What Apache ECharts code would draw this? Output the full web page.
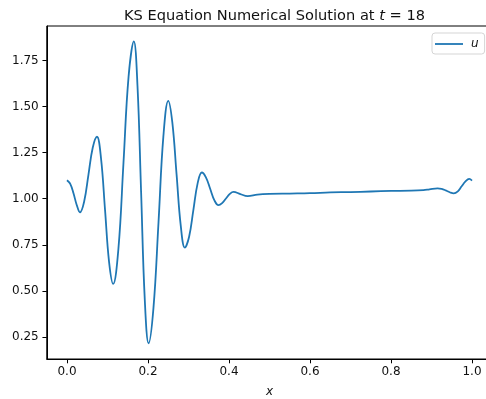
<!DOCTYPE html>
<html>
<head>
<meta charset="utf-8">
<script src="https://cdn.jsdelivr.net/npm/echarts@6/dist/echarts.min.js"></script>
<style>
html,body{margin:0;padding:0;background:#fff;}
#c{width:486px;height:399px;}
</style>
</head>
<body>
<div id="c"></div>
<script>
const xValues = [
  0.000, 0.008, 0.016, 0.024, 0.032,
  0.0425, 0.053, 0.0635, 0.074,
  0.084, 0.094, 0.104, 0.114,
  0.127, 0.1395, 0.152, 0.165,
  0.174, 0.183, 0.192, 0.2015,
  0.2135, 0.226, 0.238, 0.250,
  0.260, 0.2705, 0.281, 0.291,
  0.3015, 0.312, 0.3225, 0.333,
  0.343, 0.3535, 0.364, 0.374,
  0.383, 0.3925, 0.402, 0.411,
  0.428, 0.446,
  0.470, 0.500, 0.550, 0.600, 0.650, 0.700, 0.750, 0.800, 0.850, 0.880,
  0.895, 0.915,
  0.925, 0.935, 0.945, 0.955,
  0.965, 0.974, 0.984, 0.993,
  1.000
];
const uValues = [
  1.100, 1.080, 1.030, 0.966, 0.926,
  0.986, 1.131, 1.276, 1.336,
  1.219, 0.937, 0.655, 0.538,
  0.730, 1.196, 1.661, 1.853,
  1.614, 1.035, 0.455, 0.216,
  0.408, 0.874, 1.339, 1.531,
  1.415, 1.133, 0.851, 0.735,
  0.794, 0.938, 1.083, 1.142,
  1.116, 1.054, 0.991, 0.965,
  0.976, 1.001, 1.026, 1.037,
  1.025, 1.014,
  1.022, 1.026, 1.028, 1.030, 1.034, 1.036, 1.039, 1.042, 1.044, 1.047,
  1.051, 1.056,
  1.053, 1.045, 1.035, 1.029,
  1.040, 1.066, 1.094, 1.107,
  1.098
];
const xTicks = [0.0, 0.2, 0.4, 0.6, 0.8, 1.0];
const yTicks = [0.25, 0.50, 0.75, 1.00, 1.25, 1.50, 1.75];
const titleText = 'KS Equation Numerical Solution at ';
const seriesName = 'u';

const points = xValues.map((x, i) => [x, uValues[i]]);
const FONT = 'DejaVu Sans';
const chart = echarts.init(document.getElementById('c'), null, {renderer: 'canvas'});
chart.setOption({
  animation: false,
  backgroundColor: '#fff',
  title: {
    left: 269.5, top: 4, textAlign: 'center',
    text: '{a|' + titleText + '}{i|t}{a| = 18}',
    textStyle: {
      fontWeight: 'normal',
      rich: {
        a: {fontFamily: FONT, fontSize: 14.6, fontWeight: 'normal', color: '#111'},
        i: {fontFamily: FONT, fontSize: 14.6, fontWeight: 'normal', fontStyle: 'italic', color: '#111'}
      }
    }
  },
  legend: {
    left: 432, top: 33,
    padding: [5, 6, 4, 3],
    itemWidth: 28, itemHeight: 13,
    borderColor: '#d5d5d5', borderWidth: 1, borderRadius: 3,
    backgroundColor: 'rgba(255,255,255,0.8)',
    textStyle: {fontFamily: FONT, fontSize: 12, fontStyle: 'italic', color: '#111', padding: [0, 0, 0, 3]},
    data: [{name: seriesName, icon: 'path://M0,0 L28,0 L28,1.8 L0,1.8 Z'}]
  },
  grid: {left: 46.75, top: 26, width: 445.5, height: 333, show: true, borderColor: '#000', borderWidth: 1,
    containLabel: false, outerBoundsMode: 'none'},
  xAxis: {
    type: 'value', min: -0.05, max: 1.05,
    name: 'x', nameLocation: 'middle', nameGap: 27,
    nameTextStyle: {fontFamily: FONT, fontSize: 12, fontStyle: 'italic', color: '#111'},
    axisLine: {show: true, onZero: false, lineStyle: {color: '#000', width: 1}},
    axisTick: {show: true, customValues: xTicks, length: 4.3, lineStyle: {color: '#000'}},
    axisLabel: {customValues: xTicks, margin: 7, fontFamily: FONT, fontSize: 12, color: '#111',
      formatter: v => v.toFixed(1)},
    splitLine: {show: false}
  },
  yAxis: {
    type: 'value', min: 0.1307, max: 1.9366,
    axisLine: {show: true, onZero: false, lineStyle: {color: '#000', width: 1}},
    axisTick: {show: true, customValues: yTicks, length: 4.3, lineStyle: {color: '#000'}},
    axisLabel: {customValues: yTicks, margin: 8, fontFamily: FONT, fontSize: 12, color: '#111',
      formatter: v => v.toFixed(2)},
    splitLine: {show: false}
  },
  series: [{
    name: seriesName, type: 'line', data: points,
    symbol: 'none', smooth: 0.4,
    lineStyle: {color: '#1f77b4', width: 1.8},
    itemStyle: {color: '#1f77b4'}
  }]
});
</script>
</body>
</html>
